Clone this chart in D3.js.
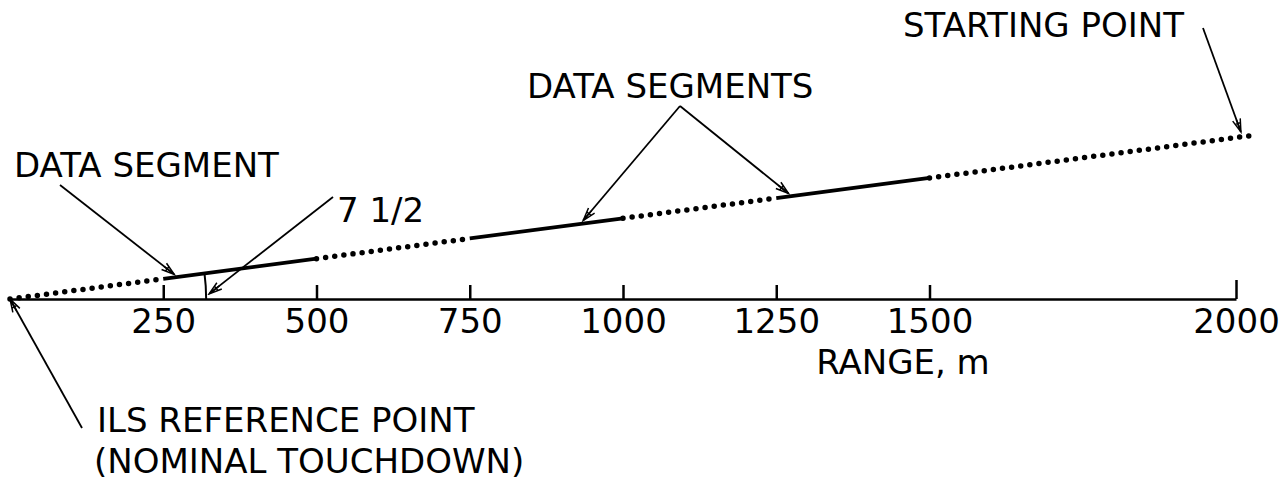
<!DOCTYPE html>
<html>
<head>
<meta charset="utf-8">
<script src="https://cdn.jsdelivr.net/npm/d3@7"></script>
<style>
  body { margin: 0; background: #fff; }
  text { font-family: "DejaVu Sans", sans-serif; font-size: 34px; fill: #000; }
</style>
</head>
<body>
<div class="chart"></div>
<script>
// data
var tickValues = [250, 500, 750, 1000, 1250, 1500, 2000];
var segStarts = [250, 750, 1250];   // data segments (solid), range in m
var segEnds = [500, 1000, 1500];
var gapStarts = [0, 500, 1000, 1500]; // dotted parts of the glide path
var gapEnds = [250, 750, 1250, 2030];
var glideAngle = 7.5;  // degrees
var arcRange = 320;    // radius of angle arc, m

var svgWidth = 1283, svgHeight = 491;
var axisY = 299;

var svg = d3.select(".chart").append("svg")
    .attr("width", svgWidth)
    .attr("height", svgHeight);

var x = d3.scaleLinear().domain([0, 2000]).range([10, 1236]);
var pxPerM = (x(2000) - x(0)) / 2000;
// altitude scale, same metres-to-pixels as range
var y = d3.scaleLinear().domain([0, 300]).range([axisY, axisY - 300 * pxPerM]);

var tanA = Math.tan(glideAngle * Math.PI / 180);
function gx(r) { return x(r); }
function gy(r) { return y(r * tanA); }

// arrowhead
svg.append("defs").append("marker")
    .attr("id", "arrow")
    .attr("viewBox", "-14 -6 16 12")
    .attr("refX", 0).attr("refY", 0)
    .attr("markerWidth", 16).attr("markerHeight", 12)
    .attr("markerUnits", "userSpaceOnUse")
    .attr("orient", "auto")
    .append("path")
    .attr("d", "M-13,-4 L0,0 L-13,4 M-13,0 L0,0 M-9,-2.5 L-9,2.5")
    .attr("fill", "none")
    .attr("stroke", "#000")
    .attr("stroke-width", 1.5);

// axis
var axis = d3.axisBottom(x)
    .tickValues(tickValues)
    .tickSizeInner(-14)
    .tickSizeOuter(0)
    .tickPadding(10)
    .tickFormat(d3.format("d"));

var gAxis = svg.append("g")
    .attr("transform", `translate(0, ${axisY})`)
    .call(axis);
gAxis.select(".domain").attr("stroke", "#000").attr("stroke-width", 2.5);
gAxis.selectAll(".tick line").attr("stroke", "#000").attr("stroke-width", 2.5);
gAxis.selectAll(".tick line").filter(d => d === 2000).attr("y2", -19);
gAxis.selectAll(".tick text")
    .attr("font-family", "DejaVu Sans, sans-serif")
    .attr("font-size", 34)
    .attr("fill", "#000");

svg.append("text")
    .attr("x", 903)
    .attr("y", 374)
    .style("text-anchor", "middle")
    .text("RANGE, m");

// glide path
var line = d3.line().x(d => gx(d)).y(d => gy(d));

svg.selectAll(".gap")
    .data(gapStarts)
    .enter()
    .append("path")
    .attr("class", "gap")
    .attr("d", (d, i) => line([d, gapEnds[i]]))
    .attr("fill", "none")
    .attr("stroke", "#000")
    .attr("stroke-width", 5.5)
    .attr("stroke-linecap", "round")
    .attr("stroke-dasharray", "0 9.2");

svg.selectAll(".seg")
    .data(segStarts)
    .enter()
    .append("path")
    .attr("class", "seg")
    .attr("d", (d, i) => line([d, segEnds[i]]))
    .attr("fill", "none")
    .attr("stroke", "#000")
    .attr("stroke-width", 3.8);

// angle arc
var arcR = x(arcRange) - x(0);
var arc = d3.arc()
    .innerRadius(arcR).outerRadius(arcR)
    .startAngle(Math.PI / 2 - glideAngle * Math.PI / 180)
    .endAngle(Math.PI / 2);
svg.append("path")
    .attr("transform", `translate(${x(0)}, ${y(0)})`)
    .attr("d", arc())
    .attr("fill", "none")
    .attr("stroke", "#000")
    .attr("stroke-width", 2);

// annotations
function leader(x1, y1, x2, y2) {
    svg.append("line")
        .attr("x1", x1).attr("y1", y1)
        .attr("x2", x2).attr("y2", y2)
        .attr("stroke", "#000")
        .attr("stroke-width", 1.8)
        .attr("marker-end", "url(#arrow)");
}

svg.append("text").attr("x", 14).attr("y", 177).text("DATA SEGMENT");
leader(60, 185, gx(268), gy(268) - 3);

var a1 = (1.5 * Math.PI) / 180;
svg.append("text").attr("x", 337).attr("y", 222).text("7 1/2");
leader(333, 197, x(0) + arcR * Math.cos(a1) + 3, y(0) - arcR * Math.sin(a1));

svg.append("text").attr("x", 527).attr("y", 98).text("DATA SEGMENTS");
leader(680, 106, gx(935), gy(935) - 3);
leader(680, 106, gx(1270), gy(1270) - 3);

svg.append("text").attr("x", 903).attr("y", 37).text("STARTING POINT");
leader(1203, 28, gx(2008), gy(2008) - 5);

svg.append("text").attr("x", 97).attr("y", 432).text("ILS REFERENCE POINT");
svg.append("text").attr("x", 94).attr("y", 473).text("(NOMINAL TOUCHDOWN)");
leader(82, 428, x(0), y(0));
</script>
</body>
</html>
